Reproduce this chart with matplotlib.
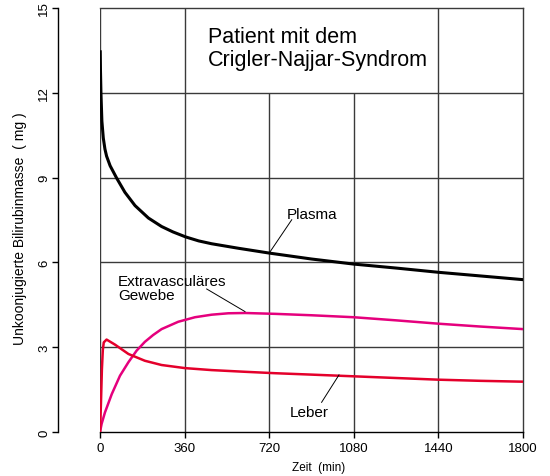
import matplotlib
matplotlib.use("Agg")
import matplotlib.pyplot as plt

plt.rcParams['font.family'] = ['Liberation Sans', 'DejaVu Sans']

# ---- data ----
plasma_t = [1, 2, 4, 8, 14, 21, 28, 43, 71, 106, 149, 206, 262, 310, 365, 420, 475, 589, 720, 900, 1080, 1260, 1440, 1620, 1800]
plasma_v = [13.45, 12.8, 12.0, 11.0, 10.4, 10.01, 9.76, 9.42, 8.98, 8.48, 8.01, 7.57, 7.27, 7.08, 6.90, 6.76, 6.66, 6.50, 6.33, 6.12, 5.94, 5.8, 5.65, 5.52, 5.39]

gewebe_t = [0, 7, 21, 50, 85, 121, 156, 191, 226, 262, 333, 404, 475, 546, 617, 745, 900, 1080, 1260, 1443, 1620, 1800]
gewebe_v = [0, 0.29, 0.69, 1.34, 1.99, 2.47, 2.88, 3.19, 3.43, 3.64, 3.90, 4.06, 4.15, 4.20, 4.21, 4.18, 4.13, 4.06, 3.95, 3.83, 3.73, 3.64]

leber_t = [0, 4, 8, 12, 16, 28, 64, 121, 191, 262, 362, 475, 617, 745, 900, 1080, 1260, 1443, 1620, 1800]
leber_v = [0, 1.0, 2.2, 2.9, 3.17, 3.27, 3.09, 2.76, 2.52, 2.37, 2.26, 2.19, 2.13, 2.08, 2.03, 1.97, 1.91, 1.85, 1.81, 1.78]

x_ticks = [0, 360, 720, 1080, 1440, 1800]
y_ticks = [0, 3, 6, 9, 12, 15]
title_lines = ["Patient mit dem", "Crigler-Najjar-Syndrom"]
x_label = "Zeit  (min)"
y_label = "Unkoonjugierte Bilirubinmasse  ( mg )"

# ---- figure ----
fig = plt.figure(figsize=(5.5, 4.77), dpi=100)
ax = fig.add_axes([100/550, 1-433/477, 423/550, 424/477])
ax.set_xlim(0, 1800)
ax.set_ylim(0, 15)

gc = '#3a3a3a'
# grid
ax.hlines([3, 6, 9, 12], 0, 1800, colors=gc, lw=1.0, zorder=1)
ax.vlines([0, 360, 1440], 0, 15, colors=gc, lw=1.0, zorder=1)
ax.vlines([720, 1080], 0, 12, colors=gc, lw=1.0, zorder=1)

# curves
ax.plot(plasma_t, plasma_v, color='black', lw=2.2, zorder=3, solid_joinstyle='round')
ax.plot(gewebe_t, gewebe_v, color='#E5007D', lw=1.8, zorder=3, solid_joinstyle='round')
ax.plot(leber_t, leber_v, color='#E4002B', lw=1.8, zorder=3, solid_joinstyle='round')

# title
ax.text(460, 13.79, title_lines[0], fontsize=15.5, ha='left', va='baseline', zorder=4)
ax.text(460, 12.99, title_lines[1], fontsize=15.5, ha='left', va='baseline', zorder=4)

# annotations
ax.text(796, 7.71, "Plasma", fontsize=11, ha='left', va='center')
ax.plot([816, 720], [7.51, 6.33], color='black', lw=0.7, zorder=4)
ax.text(77, 5.09, "Extravasculäres\nGewebe", fontsize=11, ha='left', va='center', linespacing=1.05)
ax.plot([454, 617], [5.06, 4.26], color='black', lw=0.7, zorder=4)
ax.text(809, 0.71, "Leber", fontsize=11, ha='left', va='center')
ax.plot([943, 1017], [1.05, 2.02], color='black', lw=0.7, zorder=4)

# spines
ax.spines['left'].set_position(('outward', 30.2))
for s in ['left', 'bottom']:
    ax.spines[s].set_color('black')
    ax.spines[s].set_linewidth(1.0)
for s in ['top', 'right']:
    ax.spines[s].set_color(gc)
    ax.spines[s].set_linewidth(1.0)

ax.set_xticks(x_ticks)
ax.set_xticklabels([str(v) for v in x_ticks])
ax.set_yticks(y_ticks)
ax.set_yticklabels([str(v) for v in y_ticks], rotation=90, va='center')
ax.tick_params(axis='x', direction='out', length=4, width=1, labelsize=9.5, pad=3)
ax.tick_params(axis='y', direction='out', length=4.5, width=1, labelsize=9.5, pad=1)

ax.set_xlabel(x_label, fontsize=8.5)
ax.xaxis.set_label_coords(0.5166, -0.068)
ax.set_ylabel(y_label, fontsize=10)
ax.yaxis.set_label_coords(-0.173, 0.482)

fig.savefig("out.png", dpi=100)
